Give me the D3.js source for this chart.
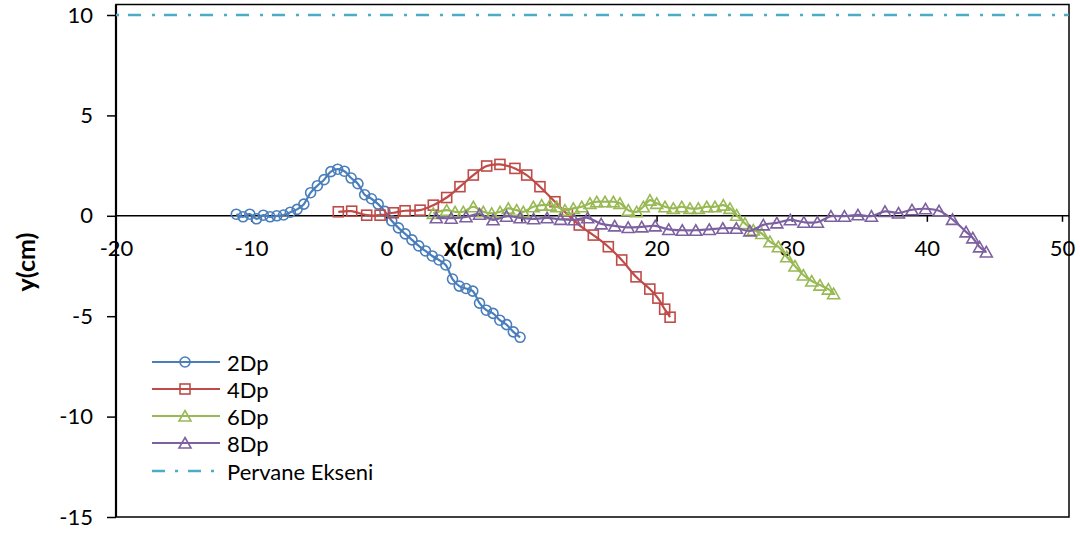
<!DOCTYPE html>
<html>
<head>
<meta charset="utf-8">
<script src="https://cdn.jsdelivr.net/npm/d3@7"></script>
<style>
  body { margin: 0; background: #fff; }
  svg { display: block; }
  text { font-family: Lato, "Open Sans", sans-serif; fill: #000; }
</style>
</head>
<body>
<svg id="chart" width="1080" height="533"></svg>
<script>
// ---- data (x, y in cm) ----
const xTicks = [-20, -10, 0, 10, 20, 30, 40, 50];
const yTicks = [-15, -10, -5, 0, 5, 10];

const seriesNames = ["2Dp", "4Dp", "6Dp", "8Dp", "Pervane Ekseni"];

const dp2X = [-11.1, -10.6, -10.1, -9.6, -9.1, -8.6, -8.1, -7.6, -7.1, -6.6, -6.1, -5.6, -5.1, -4.6, -4.1, -3.6, -3.1,
  -2.6, -2.1, -1.6, -1.1, -0.6, -0.1, 0.4, 0.9, 1.4, 1.9, 2.4, 2.9, 3.4, 3.9, 4.4, 4.9, 5.4, 5.9, 6.4, 6.9,
  7.4, 7.9, 8.4, 8.9, 9.4, 9.9];
const dp2Y = [0.08, -0.05, 0.08, -0.15, 0.03, -0.05, 0.0, 0.04, 0.18, 0.32, 0.58, 1.15, 1.5, 1.8, 2.2, 2.32, 2.22,
  1.88, 1.6, 1.05, 0.85, 0.58, 0.22, -0.25, -0.6, -0.9, -1.2, -1.5, -1.75, -2.0, -2.2, -2.45, -3.15, -3.5, -3.62, -3.75, -4.35,
  -4.7, -4.86, -5.2, -5.42, -5.78, -6.05];

const dp4X = [-3.55, -2.56, -1.45, -0.46, 0.52, 1.39, 2.5, 3.48, 4.47, 5.45, 6.44, 7.43, 8.41, 9.52, 10.39, 11.37, 12.48,
  13.4, 14.28, 15.32, 16.43, 17.42, 18.48, 19.5, 20.1, 20.6, 21.0];
const dp4Y = [0.2, 0.23, 0.03, 0.03, 0.15, 0.25, 0.28, 0.53, 0.91, 1.45, 2.03, 2.48, 2.56, 2.36, 2.03, 1.45, 0.7,
  0.08, -0.46, -0.96, -1.54, -2.2, -3.04, -3.65, -4.1, -4.65, -5.05];

const dp6X = [3.48, 4.47, 5.09, 5.7, 6.44, 7.18, 7.8, 8.42, 9.03, 9.65, 10.14, 10.88, 11.5, 12.11, 12.61, 13.22, 13.84,
  14.46, 15.07, 15.57, 16.18, 16.8, 17.29, 17.91, 18.53, 19.02, 19.51, 20.01, 20.62, 21.24, 21.86, 22.47, 23.09,
  23.71, 24.32, 24.94, 25.43, 25.93, 26.54, 27.16, 27.78, 28.39, 29.01, 29.63, 30.24, 30.86, 31.48, 32.09, 32.71, 33.1];
const dp6Y = [0.12, 0.28, 0.2, 0.2, 0.45, 0.2, 0.12, 0.2, 0.37, 0.28, 0.2, 0.45, 0.53, 0.53, 0.45, 0.28, 0.37,
  0.45, 0.62, 0.7, 0.7, 0.7, 0.62, 0.28, 0.2, 0.45, 0.78, 0.62, 0.45, 0.37, 0.45, 0.37, 0.37,
  0.45, 0.45, 0.53, 0.37, 0.03, -0.38, -0.71, -0.88, -1.29, -1.54, -2.04, -2.5, -2.95, -3.25, -3.45, -3.65, -3.88];

const dp8X = [3.7, 4.8, 5.9, 6.9, 7.9, 8.9, 9.9, 10.9, 11.9, 12.9, 13.9, 14.9, 15.9, 16.9, 17.9, 18.9, 19.9, 20.9,
  21.9, 22.9, 23.9, 24.9, 25.9, 26.9, 27.9, 28.9, 29.9, 30.9, 31.9, 32.9, 33.9, 34.9, 35.9, 36.9, 37.9, 38.9,
  39.9, 40.9, 41.9, 42.9, 43.4, 43.9, 44.4];
const dp8Y = [-0.1, -0.12, -0.05, 0.08, -0.2, -0.02, -0.1, -0.15, -0.1, -0.18, -0.2, -0.1, -0.4, -0.5, -0.58, -0.55, -0.5, -0.68,
  -0.72, -0.72, -0.68, -0.62, -0.62, -0.75, -0.45, -0.35, -0.2, -0.32, -0.32, -0.02, -0.02, 0.05, -0.02, 0.22, 0.14, 0.3,
  0.35, 0.25, -0.18, -0.8, -1.1, -1.55, -1.8];

const axisLineX = [-20, 50.5];
const axisLineY = [10, 10];

// ---- layout ----
const svg = d3.select("#chart");
const frame = { left: 116, right: 1069, top: 4.5, bottom: 517 };
const x = d3.scaleLinear().domain([-20, 50]).range([116, 1062]);
const y = d3.scaleLinear().domain([-15, 10]).range([517, 15]);

const colors = ["#4A7EBB", "#BE4B48", "#98B954", "#7D60A0", "#4BACC6"];
const plainNumber = d => String(d);   // ASCII hyphen for negatives
const labelSize = 22;

// plot area frame
svg.append("rect")
  .attr("x", frame.left).attr("y", frame.top)
  .attr("width", frame.right - frame.left).attr("height", frame.bottom - frame.top)
  .attr("fill", "none").attr("stroke", "#000").attr("stroke-width", 1.5);

// vertical axis with ticks and labels
const yAxis = d3.axisLeft(y).tickValues(yTicks).tickSize(9).tickPadding(14).tickFormat(plainNumber);
const gy = svg.append("g").attr("transform", `translate(${frame.left},0)`).call(yAxis);
gy.select(".domain").remove();
gy.append("line").attr("x1", 0).attr("x2", 0).attr("y1", frame.top).attr("y2", frame.bottom)
  .attr("stroke", "#000").attr("stroke-width", 2.2);
gy.selectAll(".tick line").attr("stroke", "#000").attr("stroke-width", 1.5);
gy.selectAll(".tick text").attr("font-size", labelSize).attr("font-family", "Lato").attr("fill", "#000");

// horizontal axis through y = 0
const xAxis = d3.axisBottom(x).tickValues(xTicks).tickSize(6).tickPadding(19).tickFormat(plainNumber);
const gx = svg.append("g").attr("transform", `translate(0,${y(0)})`).call(xAxis);
gx.select(".domain").remove();
gx.append("line").attr("x1", frame.left).attr("x2", frame.right).attr("y1", 0).attr("y2", 0)
  .attr("stroke", "#000").attr("stroke-width", 1.6);
gx.selectAll(".tick line").attr("stroke", "#000").attr("stroke-width", 1.5)
  .filter(d => d === -20).remove();
gx.selectAll(".tick text").attr("font-size", labelSize).attr("font-family", "Lato").attr("fill", "#000");

// axis titles
svg.append("text").attr("x", 473).attr("y", 246).attr("text-anchor", "middle")
  .attr("dominant-baseline", "central").attr("font-size", 25).attr("font-weight", "bold").text("x(cm)");
svg.append("text").attr("transform", "translate(25,262) rotate(-90)").attr("text-anchor", "middle")
  .attr("dominant-baseline", "central").attr("font-size", 25).attr("font-weight", "bold").text("y(cm)");

// marker shapes
const triPath = "M0,-5.5L6,5L-6,5Z";
function drawMarker(g, kind, color) {
  if (kind === "circle") {
    g.append("circle").attr("r", 5).attr("fill", "none").attr("stroke", color).attr("stroke-width", 1.6);
  } else if (kind === "square") {
    g.append("rect").attr("x", -5).attr("y", -5).attr("width", 10).attr("height", 10)
      .attr("fill", "none").attr("stroke", color).attr("stroke-width", 1.6);
  } else if (kind === "triangle") {
    g.append("path").attr("d", triPath).attr("fill", "none").attr("stroke", color).attr("stroke-width", 1.6);
  }
}

const series = [
  { xs: dp2X, ys: dp2Y, marker: "circle" },
  { xs: dp4X, ys: dp4Y, marker: "square" },
  { xs: dp6X, ys: dp6Y, marker: "triangle" },
  { xs: dp8X, ys: dp8Y, marker: "triangle" }
];

const line = d3.line().x(d => x(d[0])).y(d => y(d[1])).curve(d3.curveCatmullRom.alpha(0.5));

series.forEach((s, i) => {
  const pts = s.xs.map((v, k) => [v, s.ys[k]]);
  const g = svg.append("g");
  g.append("path").attr("d", line(pts)).attr("fill", "none")
    .attr("stroke", colors[i]).attr("stroke-width", 2.2);
  pts.forEach(p => {
    const m = g.append("g").attr("transform", `translate(${x(p[0])},${y(p[1])})`);
    drawMarker(m, s.marker, colors[i]);
  });
});

// propeller axis line
const axisPts = axisLineX.map((v, k) => [v, axisLineY[k]]);
svg.append("path").attr("d", d3.line().x(d => x(d[0])).y(d => y(d[1]))(axisPts))
  .attr("fill", "none").attr("stroke", colors[4]).attr("stroke-width", 2.6)
  .attr("stroke-dasharray", "3,9,13,11");

// legend
const legendRows = [362, 389, 416, 443, 471];
const markers = ["circle", "square", "triangle", "triangle", null];
seriesNames.forEach((name, i) => {
  const ly = legendRows[i];
  const g = svg.append("g");
  const ln = g.append("line").attr("x1", 152).attr("x2", i === 4 ? 214 : 220).attr("y1", ly).attr("y2", ly)
    .attr("stroke", colors[i]).attr("stroke-width", i === 4 ? 2.6 : 2.2);
  if (i === 4) ln.attr("stroke-dasharray", "13,10,3,10");
  if (markers[i]) {
    const m = g.append("g").attr("transform", `translate(185,${ly})`);
    drawMarker(m, markers[i], colors[i]);
  }
  g.append("text").attr("x", 227).attr("y", ly).attr("dominant-baseline", "central")
    .attr("font-size", labelSize).text(name);
});
</script>
</body>
</html>
